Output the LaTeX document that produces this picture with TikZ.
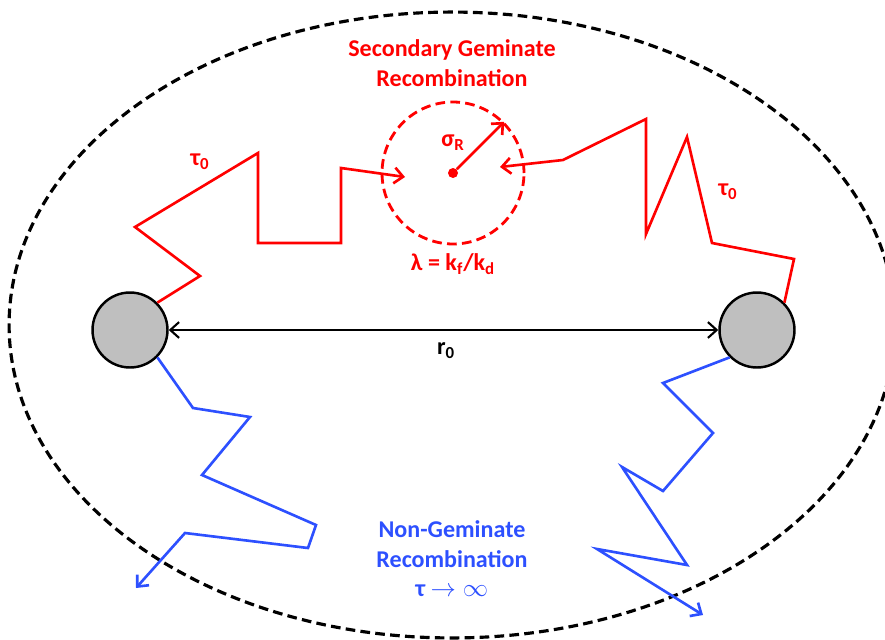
\documentclass[tikz,border=0pt]{standalone}
\usepackage{fontspec}
\setmainfont{Carlito}
\usetikzlibrary{arrows.meta}
\definecolor{gemred}{RGB}{255,0,0}
\definecolor{nonblue}{RGB}{45,80,255}

\begin{document}
\begin{tikzpicture}[x=0.02cm, y=-0.02cm, >={Straight Barb[length=5pt,width=9pt]},
    particle/.style={circle, draw=black, fill=black!25, line width=1.4pt, minimum size=1.5cm, inner sep=0pt},
    walkred/.style={gemred, line width=1.5pt},
    walkblue/.style={nonblue, line width=1.5pt},
    lbl/.style={font=\bfseries\fontsize{13.7}{16.8}\selectfont, align=center, inner sep=0pt}]

    \clip (0,0) rectangle (885,639);

    % Fronteira externa (elipse tracejada)
    \draw[dash pattern=on 5.5pt off 3pt, line width=1.8pt] (452,325) ellipse [x radius=8.86cm, y radius=6.26cm];

    % Particulas
    \node[particle] (pL) at (130,330) {};
    \node[particle] (pR) at (757,330) {};

    % Distancia inicial r_0
    \draw[<->, line width=1.2pt] (pL) -- (pR);
    \node[lbl] (r0) at (446,351) {r\textsubscript{0}};

    % Esfera de reacao
    \node[circle, draw=gemred, dash pattern=on 5.5pt off 3pt, line width=1.6pt, minimum size=2.84cm] (rc) at (453,173) {};
    \node[circle, fill=gemred, inner sep=0pt, minimum size=0.2cm] (core) at (rc.center) {};
    \draw[->, walkred] (core) -- (rc.45);

    % Pontas das caminhadas
    \coordinate (inL) at (405,177);
    \coordinate (inR) at (500,167);
    \coordinate (outL) at (136,588);
    \coordinate (outR) at (703,615);

    % --- Caminhadas vermelhas (geminada) ---
    \draw[->, walkred] (pL.45) -- (200,276) -- (135,227) -- (258,153)
        -- (258,243) -- (341,243) -- (341,168) -- (inL);
    \draw[->, walkred] (pR.45) -- (794,259) -- (712,243) -- (687,137)
        -- (646,234) -- (646,119) -- (563,160) -- (inR);

    % --- Caminhadas azuis (nao geminada) ---
    \draw[->, walkblue] (pL.-45) -- (193,408) -- (250,417) -- (202,475)
        -- (316,525) -- (308,548) -- (185,533) -- (outL);
    \draw[->, walkblue] (pR.-135) -- (663,383) -- (713,433) -- (663,491)
        -- (622,467) -- (687,565) -- (597,549) -- (outR);

    % Rotulos
    \node[lbl, gemred] (title) at (452,63) {Secondary Geminate\\Recombination};
    \node[lbl, gemred] (tauL) at (200,162) {τ\textsubscript{0}};
    \node[lbl, gemred] (tauR) at (728,192) {τ\textsubscript{0}};
    \node[lbl, gemred] (sigma) at (453,143) {σ\textsubscript{R}};
    \node[lbl, gemred] (lambda) at (453,264) {λ = k\textsubscript{f}/k\textsubscript{d}};
    \node[lbl, nonblue] (ngr) at (452,559) {Non-Geminate\\Recombination\\τ $\rightarrow\infty$};

\end{tikzpicture}
\end{document}
